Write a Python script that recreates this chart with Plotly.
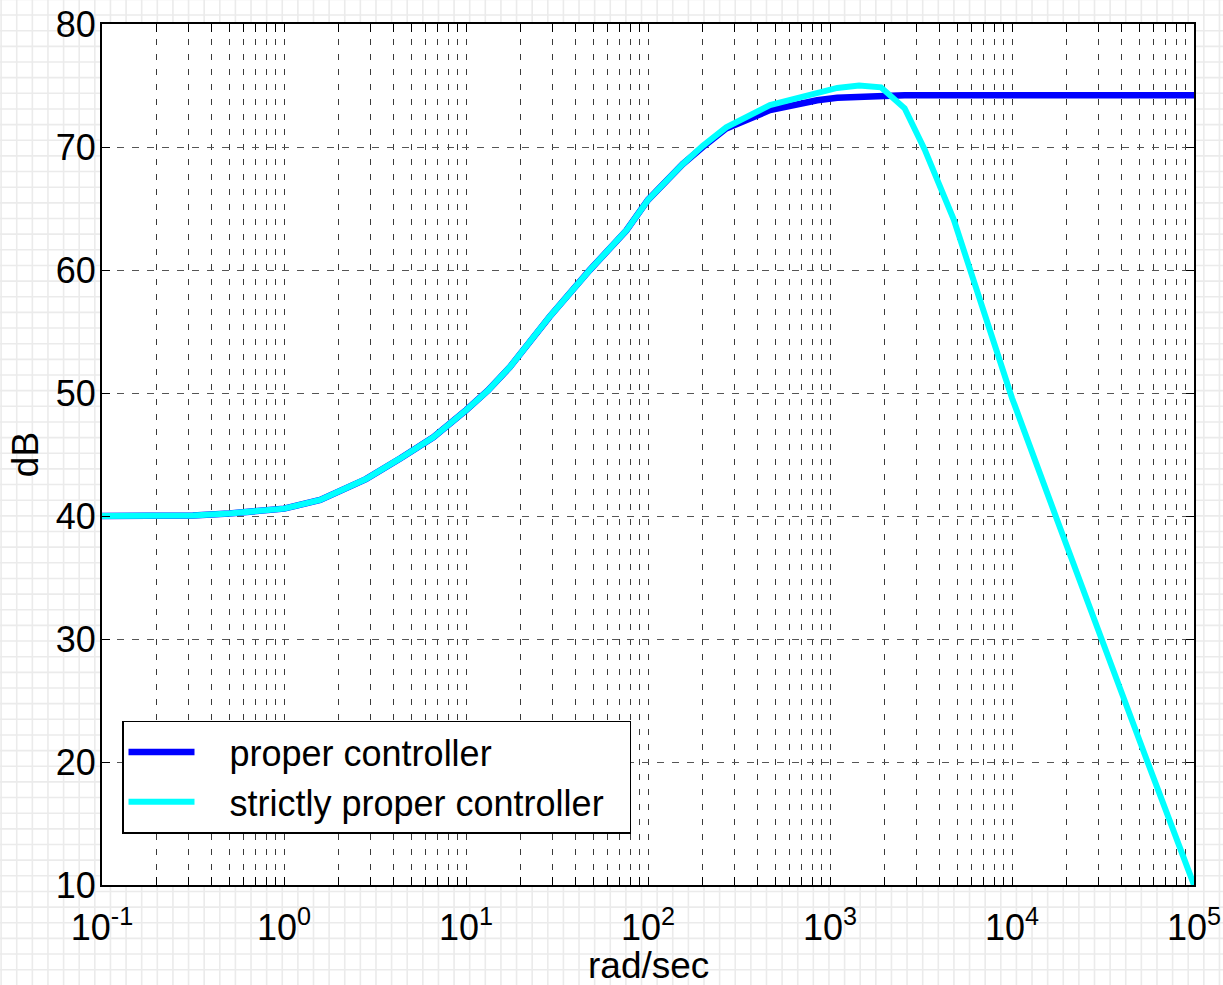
import plotly.graph_objects as go

# ---- data ----
freq = [0.1, 0.2, 0.316, 0.5, 1.0, 1.58, 2.82, 4.37, 6.61, 10.0, 13.2, 17.4,
        28.8, 47.9, 75.9, 100.0, 155.0, 200.0, 269.0, 468.0, 851.0, 1096.0,
        1445.0, 1905.0, 2570.0, 3311.0, 4786.0, 6918.0, 10000.0, 17783.0,
        31623.0, 56234.0, 100000.0]
mag_proper = [40.0, 40.0, 40.05, 40.2, 40.6, 41.3, 43.0, 44.7, 46.4, 48.6, 50.2, 52.1,
              56.2, 60.0, 63.2, 65.7, 68.6, 70.0, 71.5, 73.0, 73.8, 74.0,
              74.1, 74.2, 74.2, 74.2, 74.2, 74.2, 74.2, 74.2,
              74.2, 74.2, 74.2]
mag_strict = [40.0, 40.0, 40.05, 40.2, 40.6, 41.3, 43.0, 44.7, 46.4, 48.6, 50.2, 52.1,
              56.2, 60.0, 63.2, 65.7, 68.6, 70.1, 71.6, 73.4, 74.4, 74.8,
              75.0, 74.85, 73.15, 69.8, 64.1, 56.8, 49.6, 39.6,
              29.6, 19.8, 10.0]
series_names = ["proper controller", "strictly proper controller"]
decades = [-1, 0, 1, 2, 3, 4, 5]
decade_labels = ["10<sup>-1</sup>", "10<sup>0</sup>", "10<sup>1</sup>", "10<sup>2</sup>",
                 "10<sup>3</sup>", "10<sup>4</sup>", "10<sup>5</sup>"]
y_ticks = [10, 20, 30, 40, 50, 60, 70, 80]
x_title = "rad/sec"
y_title = "dB"

# ---- layout geometry ----
W, H = 1223, 985
L, R, T, B = 102, 29, 24, 100
pw, ph = W - L - R, H - T - B

# x tick positions: decades with labels, minor positions unlabeled
xtv, xtt = [], []
for d, lab in zip(decades, decade_labels):
    xtv.append(10.0 ** d)
    xtt.append(lab)
    if d < decades[-1]:
        for m in range(2, 10):
            xtv.append(m * 10.0 ** d)
            xtt.append("")

# background graph-paper grid (decoration) as one path in paper coords
def px2fx(px):
    return (px - L) / pw

def py2fy(py):
    return (H - B - py) / ph

parts = []
k = 0
while True:
    x = 1.1 + 15.62 * k
    if x > W:
        break
    parts.append(f"M{px2fx(x):.5f},{py2fy(0):.5f}L{px2fx(x):.5f},{py2fy(H):.5f}")
    k += 1
k = 0
while True:
    y = -0.6 + 15.65 * k
    if y > H:
        break
    parts.append(f"M{px2fx(0):.5f},{py2fy(y):.5f}L{px2fx(W):.5f},{py2fy(y):.5f}")
    k += 1
bg_path = "".join(parts)

font_family = "Liberation Sans, Arial, sans-serif"
NB = "\u00a0"

fig = go.Figure()
fig.add_trace(go.Scatter(x=freq, y=mag_proper, mode="lines",
                         name=NB * 3 + series_names[0],
                         line=dict(color="#0000ff", width=6.5)))
fig.add_trace(go.Scatter(x=freq, y=mag_strict, mode="lines",
                         name=NB * 3 + series_names[1] + NB * 2,
                         line=dict(color="#00ffff", width=6)))

fig.update_layout(
    width=W, height=H,
    margin=dict(l=L, r=R, t=T, b=B, pad=0),
    paper_bgcolor="white",
    plot_bgcolor="white",
    font=dict(family=font_family, size=36, color="black"),
    showlegend=True,
    legend=dict(x=px2fx(122), y=py2fy(777), xanchor="left", yanchor="middle",
                bgcolor="white", bordercolor="black", borderwidth=1.5,
                font=dict(size=36), itemwidth=66, tracegroupgap=0),
    shapes=[
        dict(type="path", path=bg_path, xref="paper", yref="paper",
             line=dict(color="#ebebeb", width=1.6), layer="below"),
        dict(type="rect", xref="paper", yref="paper", x0=0, x1=1, y0=0, y1=1,
             fillcolor="white", line=dict(width=0), layer="below"),
    ],
    annotations=[
        dict(text=x_title, xref="paper", yref="paper", x=0.5, y=py2fy(966),
             xanchor="center", yanchor="middle", showarrow=False,
             font=dict(size=37, color="black")),
    ],
)

fig.update_xaxes(
    type="log", range=[-1, 5],
    tickmode="array", tickvals=xtv, ticktext=xtt,
    showgrid=True, gridcolor="#3a3a3a", gridwidth=1, griddash="6px,9px",
    showline=True, linecolor="black", linewidth=2, mirror="ticks",
    ticks="inside", ticklen=8, tickcolor="black", tickwidth=1,
    tickfont=dict(size=36), zeroline=False, ticklabelstandoff=10,
    automargin=False,
)
fig.update_yaxes(
    range=[10, 80], tickmode="array", tickvals=y_ticks,
    showgrid=True, gridcolor="#555555", gridwidth=1, griddash="7px,8px",
    showline=True, linecolor="black", linewidth=2, mirror="ticks",
    ticks="inside", ticklen=8, tickcolor="black", tickwidth=1,
    tickfont=dict(size=36), zeroline=False, ticklabelstandoff=-3,
    title=dict(text=y_title, font=dict(size=37), standoff=6),
    automargin=False,
)

fig.write_html("out.html")
